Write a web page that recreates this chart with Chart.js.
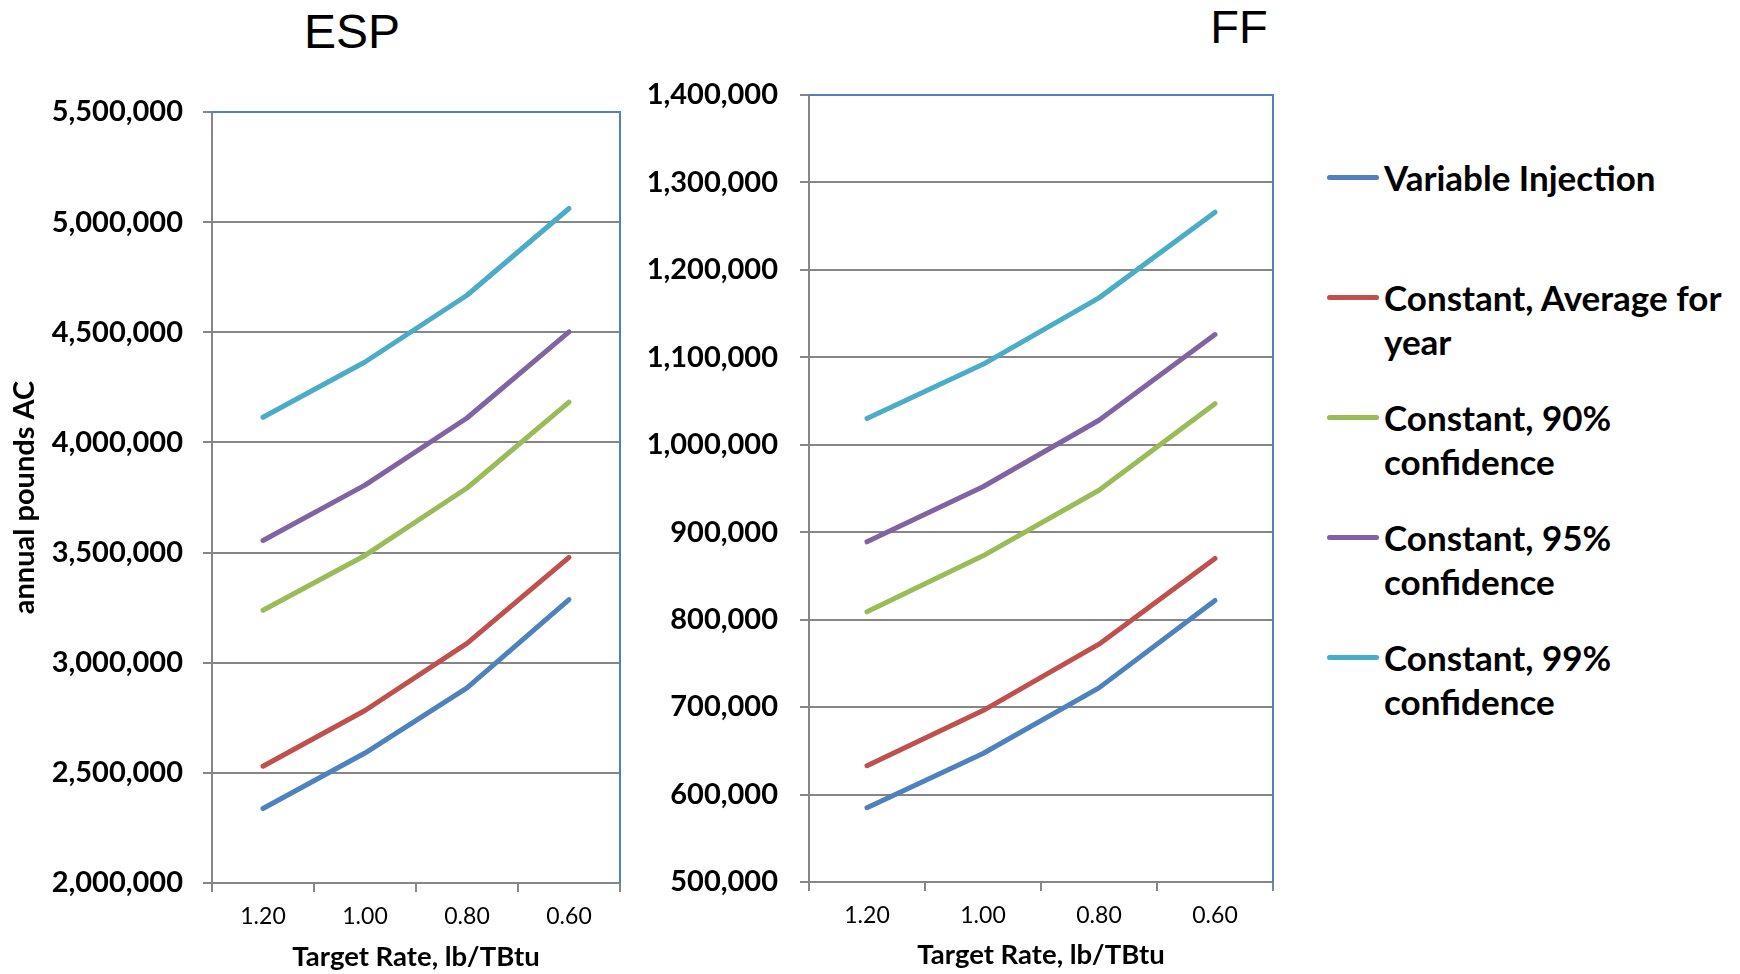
<!DOCTYPE html>
<html>
<head>
<meta charset="utf-8">
<script src="https://cdn.jsdelivr.net/npm/chart.js@4.4.1/dist/chart.umd.min.js"></script>
<style>
  html, body { margin: 0; padding: 0; background: #ffffff; }
  body { width: 1740px; height: 974px; position: relative; overflow: hidden; font-family: Lato, "Open Sans", sans-serif; }
  .panel { position: absolute; top: 0; }
  .heading { position: absolute; font-family: "Liberation Sans", Arial, sans-serif; font-weight: normal; color: #000; line-height: 1; transform: translate(-50%, -50%); white-space: nowrap; }
  #legend { position: absolute; left: 1327px; top: 155px; width: 410px; }
  .entry { position: relative; height: 120px; }
  .swatch { position: absolute; left: 0; top: 20px; width: 52px; height: 5px; border-radius: 3px; }
  .label { position: absolute; left: 57px; top: 0; width: 350px; font: bold 35px Lato, sans-serif; line-height: 44px; color: #000; }
</style>
</head>
<body>
<div class="heading" id="titleEsp" style="left:352px; top:32px; font-size:48px;"></div>
<div class="heading" id="titleFf" style="left:1239px; top:26px; font-size:47px;"></div>
<canvas class="panel" id="espChart" width="640" height="974" style="left:0px;"></canvas>
<canvas class="panel" id="ffChart" width="660" height="974" style="left:640px;"></canvas>
<div id="legend"></div>
<script>
// Target emission rates, lb/TBtu (category axis)
const targetRates = ['1.20', '1.00', '0.80', '0.60'];

// Series names and colours
const seriesNames = [
  'Variable Injection',
  'Constant, Average for year',
  'Constant, 90% confidence',
  'Constant, 95% confidence',
  'Constant, 99% confidence'
];
const seriesColors = ['#4F81BD', '#C0504D', '#9BBB59', '#8064A2', '#4BACC6'];

// ESP: annual pounds of activated carbon
const espVariable = [2338000, 2590000, 2886000, 3286000];
const espAverage  = [2530000, 2783000, 3088000, 3478000];
const espConf90   = [3238000, 3487000, 3793000, 4183000];
const espConf95   = [3555000, 3806000, 4111000, 4502000];
const espConf99   = [4114000, 4365000, 4668000, 5062000];

// FF: annual pounds of activated carbon
const ffVariable = [585000, 647000, 722000, 822000];
const ffAverage  = [633000, 696000, 772000, 870000];
const ffConf90   = [809000, 873000, 948000, 1047000];
const ffConf95   = [889000, 952000, 1028000, 1126000];
const ffConf99   = [1030000, 1092000, 1168000, 1266000];

// Axis ranges
const espAxis = { min: 2000000, max: 5500000, step: 500000 };
const ffAxis  = { min: 500000, max: 1400000, step: 100000 };

const panelTitles = { esp: 'ESP', ff: 'FF' };
const yAxisTitle = 'annual pounds AC';
const xAxisTitle = 'Target Rate, lb/TBtu';

const GRID = '#868686';
const FRAME = '#4F81BD';

// Blue top and right edges of the plot area
const frameEdges = {
  id: 'frameEdges',
  beforeDatasetsDraw(chart) {
    const { ctx, chartArea: a } = chart;
    ctx.save();
    ctx.strokeStyle = FRAME;
    ctx.lineWidth = 2;
    ctx.beginPath();
    ctx.moveTo(a.left, a.top);
    ctx.lineTo(a.right, a.top);
    ctx.lineTo(a.right, a.bottom);
    ctx.stroke();
    ctx.restore();
  }
};

function buildDatasets(seriesValues) {
  return seriesValues.map((values, i) => ({
    label: seriesNames[i],
    data: values,
    borderColor: seriesColors[i],
    backgroundColor: seriesColors[i],
    borderWidth: 5,
    borderCapStyle: 'round',
    borderJoinStyle: 'round',
    pointRadius: 0,
    tension: 0,
    fill: false
  }));
}

function makeChart(canvasId, seriesValues, axis, geom) {
  const yScale = {
    min: axis.min,
    max: axis.max,
    afterFit(scale) { scale.width = geom.yWidth; },
    ticks: {
      stepSize: axis.step,
      color: '#000',
      padding: geom.yPad,
      font: { family: 'Lato', weight: 'bold', size: 29 },
      callback: v => Number(v).toLocaleString('en-US')
    },
    grid: { color: GRID, lineWidth: 2, tickLength: 9, drawOnChartArea: true },
    border: { color: GRID, width: 2 }
  };
  if (geom.yTitle) {
    yScale.title = {
      display: true,
      text: yAxisTitle,
      color: '#000',
      font: { family: 'Lato', weight: 'bold', size: 29, lineHeight: 1.2 },
      padding: { top: 7, bottom: 0 }
    };
  }
  return new Chart(document.getElementById(canvasId), {
    type: 'line',
    data: { labels: targetRates, datasets: buildDatasets(seriesValues) },
    plugins: [frameEdges],
    options: {
      responsive: false,
      animation: false,
      devicePixelRatio: 1,
      layout: { padding: geom.padding },
      plugins: { legend: { display: false }, tooltip: { enabled: false }, title: { display: false } },
      scales: {
        x: {
          offset: true,
          afterFit(scale) { scale.height = geom.xHeight; },
          ticks: {
            color: '#000',
            padding: 11,
            maxRotation: 0,
            font: { family: 'Lato', weight: 'normal', size: 23 }
          },
          grid: { offset: true, drawOnChartArea: false, color: GRID, lineWidth: 2, tickLength: 9 },
          border: { color: GRID, width: 2 },
          title: {
            display: true,
            text: xAxisTitle,
            color: '#000',
            font: { family: 'Lato', weight: 'bold', size: 27.5, lineHeight: 1.2 },
            padding: { top: 0, bottom: geom.xTitlePad }
          }
        },
        y: yScale
      }
    }
  });
}

function buildLegend() {
  const box = document.getElementById('legend');
  seriesNames.forEach((name, i) => {
    const entry = document.createElement('div');
    entry.className = 'entry';
    const sw = document.createElement('span');
    sw.className = 'swatch';
    sw.style.background = seriesColors[i];
    const tx = document.createElement('span');
    tx.className = 'label';
    tx.textContent = name;
    entry.appendChild(sw);
    entry.appendChild(tx);
    box.appendChild(entry);
  });
}

async function draw() {
  try {
    await Promise.all([
      document.fonts.load('bold 29px Lato'),
      document.fonts.load('23px Lato'),
      document.fonts.load('48px "Liberation Sans"')
    ]);
  } catch (e) { /* fall back to whatever is available */ }

  document.getElementById('titleEsp').textContent = panelTitles.esp;
  document.getElementById('titleFf').textContent = panelTitles.ff;
  buildLegend();

  makeChart('espChart', [espVariable, espAverage, espConf90, espConf95, espConf99], espAxis, {
    padding: { top: 112, right: 20, bottom: 0, left: 0 },
    yWidth: 212, xHeight: 91, yPad: 20, xTitlePad: 0, yTitle: true
  });
  makeChart('ffChart', [ffVariable, ffAverage, ffConf90, ffConf95, ffConf99], ffAxis, {
    padding: { top: 95, right: 27, bottom: 0, left: 0 },
    yWidth: 169, xHeight: 92, yPad: 22, xTitlePad: 2, yTitle: false
  });
}
draw();
</script>
</body>
</html>
